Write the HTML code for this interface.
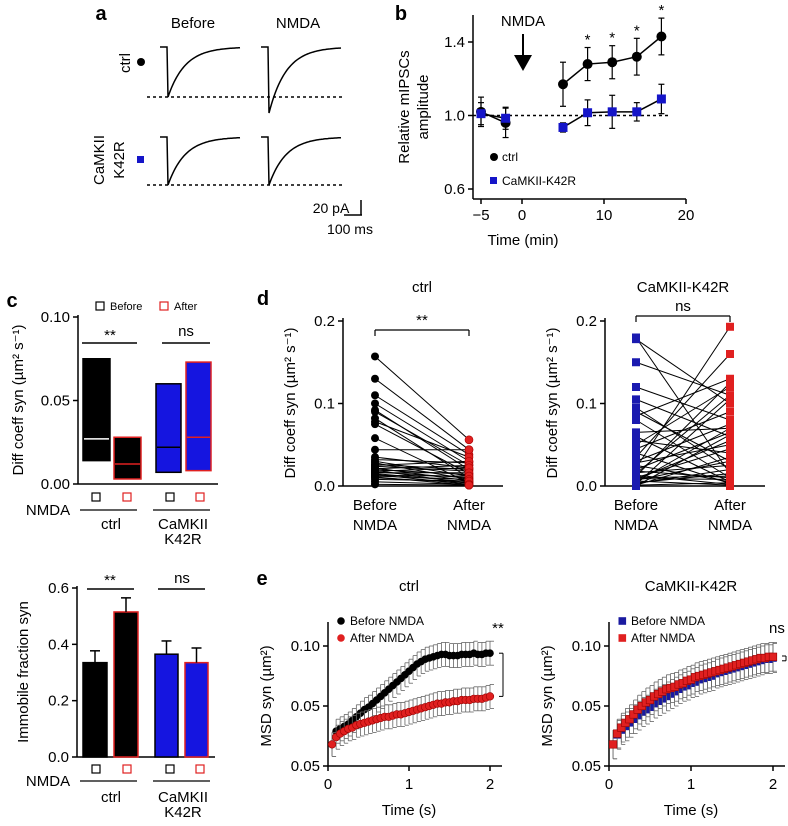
<!DOCTYPE html>
<html><head><meta charset="utf-8"><style>
html,body{margin:0;padding:0;background:#fff;}
svg{display:block;font-family:"Liberation Sans",Arial,sans-serif;}
</style></head><body>
<svg id="fig" width="788" height="826" viewBox="0 0 788 826" xmlns="http://www.w3.org/2000/svg">
<g id="pa"></g>
<g id="pb"></g>
<g id="pc1"></g>
<g id="pc2"></g>
<g id="pd1"></g>
<g id="pd2"></g>
<g id="pe1"></g>
<g id="pe2"></g>
</svg>
<script>
// ---- Panel b data ----
const bTimes = [-5, -2, 5, 8, 11, 14, 17];
const bCtrl = [1.02, 0.96, 1.17, 1.28, 1.29, 1.32, 1.43];
const bCtrlErr = [0.08, 0.08, 0.12, 0.09, 0.09, 0.10, 0.10];
const bK42R = [1.01, 0.985, 0.935, 1.015, 1.02, 1.02, 1.09];
const bK42RErr = [0.06, 0.06, 0.025, 0.07, 0.09, 0.05, 0.08];
const bXTicks = [-5, 0, 10, 20];
const bXTickLabels = ["\u22125", "0", "10", "20"];
const bYTicks = [0.6, 1.0, 1.4];
const bYTickLabels = ["0.6", "1.0", "1.4"];
const bStars = [8, 11, 14, 17];
// ---- Panel c data ----
const cGroups = ["ctrl-before", "ctrl-after", "k42r-before", "k42r-after"];
const cBoxLow = [0.014, 0.003, 0.007, 0.008];
const cBoxHigh = [0.075, 0.028, 0.060, 0.073];
const cBoxMed = [0.027, 0.012, 0.022, 0.028];
const cImmobile = [0.335, 0.515, 0.365, 0.335];
const cImmobileErr = [0.042, 0.05, 0.047, 0.052];
const cYTicks1 = [0, 0.05, 0.10];
const cYTickLabels1 = ["0.00", "0.05", "0.10"];
const cYTicks2 = [0, 0.2, 0.4, 0.6];
const cYTickLabels2 = ["0.0", "0.2", "0.4", "0.6"];
// ---- Panel d data ----
const dCtrlBefore = [.157,.130,.110,.100,.092,.090,.082,.078,.075,.058,.044,.035,.032,.030,.028,.026,.025,.024,.022,.021,.020,.019,.018,.017,.016,.015,.014,.013,.012,.011,.010,.008,.005,.002];
const dCtrlAfter = [.056,.044,.038,.030,.020,.025,.010,.035,.015,.004,.044,.022,.028,.012,.008,.020,.030,.018,.006,.025,.014,.003,.022,.010,.016,.005,.002,.012,.008,.001,.004,.006,.002,.001];
const dK42RBefore = [.180,.178,.150,.120,.105,.095,.090,.085,.080,.065,.060,.055,.050,.045,.040,.035,.030,.028,.025,.022,.020,.018,.016,.015,.013,.012,.010,.009,.008,.007,.006,.005,.004,.003,.002,.001,.001,.000,.000,.010];
const dK42RAfter = [.015,.100,.110,.080,.060,.020,.030,.130,.010,.070,.005,.040,.120,.090,.003,.160,.075,.050,.005,.193,.065,.010,.025,.110,.002,.125,.045,.008,.055,.030,.001,.070,.015,.020,.105,.004,.035,.062,.000,.012];
const dYTicks = [0, 0.1, 0.2];
const dYTickLabels = ["0.0", "0.1", "0.2"];
// ---- Panel e data ----
const eTimes = [0.05,0.1,0.15,0.2,0.25,0.3,0.35,0.4,0.45,0.5,0.55,0.6,0.65,0.7,0.75,0.8,0.85,0.9,0.95,1.0,1.05,1.1,1.15,1.2,1.25,1.3,1.35,1.4,1.45,1.5,1.55,1.6,1.65,1.7,1.75,1.8,1.85,1.9,1.95,2.0];
const eCtrlBefore = [0.018,0.029,0.031,0.033,0.035,0.038,0.041,0.044,0.047,0.049,0.052,0.055,0.058,0.061,0.064,0.067,0.070,0.073,0.076,0.079,0.082,0.085,0.087,0.089,0.090,0.091,0.092,0.093,0.093,0.092,0.092,0.092,0.093,0.093,0.093,0.094,0.093,0.093,0.094,0.094];
const eCtrlAfter = [0.018,0.024,0.027,0.029,0.031,0.032,0.034,0.035,0.036,0.037,0.038,0.039,0.040,0.041,0.041,0.042,0.043,0.043,0.044,0.045,0.046,0.047,0.048,0.049,0.050,0.051,0.052,0.052,0.053,0.053,0.054,0.054,0.055,0.055,0.055,0.056,0.056,0.056,0.057,0.058];
const eK42RBefore = [0.018,0.026,0.030,0.033,0.036,0.039,0.042,0.045,0.047,0.049,0.052,0.054,0.056,0.058,0.060,0.062,0.064,0.066,0.067,0.069,0.070,0.072,0.073,0.074,0.075,0.077,0.078,0.079,0.080,0.081,0.082,0.083,0.084,0.085,0.086,0.087,0.088,0.089,0.089,0.090];
const eK42RAfter = [0.018,0.027,0.032,0.036,0.039,0.043,0.047,0.050,0.053,0.055,0.058,0.060,0.062,0.064,0.065,0.066,0.068,0.069,0.071,0.072,0.074,0.075,0.076,0.077,0.078,0.079,0.080,0.081,0.082,0.083,0.084,0.085,0.086,0.087,0.088,0.089,0.090,0.090,0.091,0.091];
const eCtrlErr = 0.010;
const eK42RErr = 0.012;
const eXTicks = [0, 1, 2];
const eXTickLabels = ["0", "1", "2"];
const eYTicks = [0, 0.05, 0.10];
const eYTickLabels = ["0.05", "0.05", "0.10"];

const NS = "http://www.w3.org/2000/svg";
function mk(parent, tag, attrs, text) {
  const el = document.createElementNS(NS, tag);
  for (const k in attrs) el.setAttribute(k, attrs[k]);
  if (text !== undefined) el.textContent = text;
  parent.appendChild(el);
  return el;
}
function line(p, x1, y1, x2, y2, name, extra) {
  const a = Object.assign({x1, y1, x2, y2, stroke: "#000", "stroke-width": 1.5}, extra || {});
  const el = mk(p, "line", a);
  
  
  return el;
}
function txt(p, x, y, s, name, size, anchor, extra) {
  const a = Object.assign({x, y, "font-size": size || 15, "text-anchor": anchor || "middle", fill: "#000"}, extra || {});
  const el = mk(p, "text", a, s);
  
  
  return el;
}
function scale(d0, d1, r0, r1) { return v => r0 + (v - d0) * (r1 - r0) / (d1 - d0); }

// ===== Panel a =====
(function () {
  const g = document.getElementById("pa");
  txt(g, 101, 20, "a", "panel-label-a", 20, "middle", {"font-weight": "bold"});
  txt(g, 193, 28, "Before", "column-title-before", 15);
  txt(g, 298, 28, "NMDA", "column-title-nmda", 15);
  txt(g, 0, 0, "ctrl", "row-label-ctrl", 15, "middle", {transform: "translate(130,63) rotate(-90)"});
  const dot = mk(g, "circle", {cx: 141, cy: 62, r: 4, fill: "#000"});
  
  
  txt(g, 0, 0, "CaMKII", "row-label-camkii", 15, "middle", {transform: "translate(104,160) rotate(-90)"});
  txt(g, 0, 0, "K42R", "row-label-k42r", 15, "middle", {transform: "translate(124,160) rotate(-90)"});
  const sq = mk(g, "rect", {x: 137, y: 156, width: 7, height: 7, fill: "#1515c8"});
  
  
  function trace(x0, yb, ypk, name) {
    let d = `M${x0},${yb} L${x0 + 7},${yb} L${x0 + 8},${ypk}`;
    const depth = ypk - yb;
    for (let i = 1; i <= 60; i++) {
      const t = i / 60;
      d += ` L${(x0 + 8 + t * 72).toFixed(1)},${(yb + depth * Math.exp(-t * 4.2)).toFixed(1)}`;
    }
    const p = mk(g, "path", {d, fill: "none", stroke: "#000", "stroke-width": 1.5});
    
    
  }
  trace(160, 47, 97, "trace-ctrl-before");
  trace(261, 47, 113, "trace-ctrl-nmda");
  trace(160, 137, 185, "trace-k42r-before");
  trace(261, 137, 185, "trace-k42r-nmda");
  line(g, 147, 97, 343, 97, "baseline-ctrl", {"stroke-dasharray": "3,3"});
  line(g, 147, 185, 343, 185, "baseline-k42r", {"stroke-dasharray": "3,3"});
  line(g, 361, 200, 361, 215, "scale-bar-vertical");
  line(g, 344, 215, 362, 215, "scale-bar-horizontal");
  txt(g, 331, 213, "20 pA", "scale-label-pa", 14);
  txt(g, 350, 234, "100 ms", "scale-label-ms", 14);
})();

// ===== Panel b =====
(function () {
  const g = document.getElementById("pb");
  const X = scale(-5, 20, 481, 686), Y = scale(0.6, 1.4, 189, 42);
  txt(g, 401, 20, "b", "panel-label-b", 20, "middle", {"font-weight": "bold"});
  line(g, 473, 15, 473, 199, "y-axis");
  line(g, 473, 199, 686, 199, "x-axis");
  bXTicks.forEach((t, i) => { line(g, X(t), 199, X(t), 204, "x-tick"); txt(g, X(t), 220, bXTickLabels[i], "x-tick-label", 15); });
  bYTicks.forEach((t, i) => { line(g, 468, Y(t), 473, Y(t), "y-tick"); txt(g, 465, Y(t) + 5, bYTickLabels[i], "y-tick-label", 15, "end"); });
  txt(g, 523, 245, "Time (min)", "x-axis-title", 15);
  txt(g, 0, 0, "Relative mIPSCs", "y-axis-title", 15, "middle", {transform: "translate(409,107) rotate(-90)"});
  txt(g, 0, 0, "amplitude", "y-axis-title-2", 15, "middle", {transform: "translate(428,107) rotate(-90)"});
  line(g, 473, Y(1.0), 668, Y(1.0), "reference-line", {"stroke-dasharray": "3,3"});
  txt(g, 523, 26, "NMDA", "nmda-label", 15);
  line(g, 523, 34, 523, 55, "nmda-arrow-shaft", {"stroke-width": 2});
  const ar = mk(g, "polygon", {points: "514,55 532,55 523,71", fill: "#000"});
  
  
  function series(vals, errs, color, shape, name) {
    let d = "";
    const seg = [[0, 2], [2, 7]];
    seg.forEach(([a, b]) => {
      for (let i = a; i < b; i++) d += (i === a ? "M" : "L") + X(bTimes[i]) + "," + Y(vals[i]) + " ";
    });
    const p = mk(g, "path", {d, fill: "none", stroke: "#000", "stroke-width": 1.5});
    
    
    vals.forEach((v, i) => {
      const x = X(bTimes[i]);
      line(g, x, Y(v - errs[i]), x, Y(v + errs[i]), name + "-error-bar", {"stroke-width": 1.2});
      line(g, x - 3, Y(v + errs[i]), x + 3, Y(v + errs[i]), name + "-error-cap", {"stroke-width": 1.2});
      line(g, x - 3, Y(v - errs[i]), x + 3, Y(v - errs[i]), name + "-error-cap", {"stroke-width": 1.2});
      let m;
      if (shape === "c") m = mk(g, "circle", {cx: x, cy: Y(v), r: 5, fill: color});
      else m = mk(g, "rect", {x: x - 4.5, y: Y(v) - 4.5, width: 9, height: 9, fill: color});
      
      
    });
  }
  series(bCtrl, bCtrlErr, "#000", "c", "ctrl");
  series(bK42R, bK42RErr, "#1515c8", "s", "k42r");
  bStars.forEach(t => {
    const i = bTimes.indexOf(t);
    txt(g, X(t), Y(bCtrl[i] + bCtrlErr[i]) - 3, "*", "significance-star", 15);
  });
  const l1 = mk(g, "circle", {cx: 494, cy: 157, r: 4, fill: "#000"});
  
  
  txt(g, 502, 161, "ctrl", "legend-label-ctrl", 12, "start");
  const l2 = mk(g, "rect", {x: 490, y: 177, width: 7, height: 7, fill: "#1515c8"});
  
  
  txt(g, 502, 185, "CaMKII-K42R", "legend-label-k42r", 12, "start");
})();

// ===== Panel c =====
function nmdaRow(g, yS, yL, yG) {
  const xs = [96, 127, 170, 200];
  xs.forEach((x, i) => {
    const r = mk(g, "rect", {x: x - 4, y: yS - 4, width: 8, height: 8, fill: "none", stroke: i % 2 ? "#e02020" : "#000", "stroke-width": 1.2});
    
    
  });
  txt(g, 48, yL + 5, "NMDA", "nmda-row-label", 15);
  line(g, 80, yL, 137, yL, "group-line-ctrl", {"stroke-width": 1.2});
  line(g, 153, yL, 210, yL, "group-line-k42r", {"stroke-width": 1.2});
  txt(g, 111, yG, "ctrl", "group-label-ctrl", 15);
  txt(g, 183, yG, "CaMKII", "group-label-camkii", 15);
  txt(g, 183, yG + 15, "K42R", "group-label-k42r", 15);
}
const cBarX = [83, 114, 156, 186];
const cBarW = [27, 27, 25, 25];
const cFill = ["#000", "#000", "#1515e0", "#1515e0"];
const cStroke = ["#000", "#e02020", "#000", "#e02020"];
const cMedColor = ["#fff", "#e02020", "#000", "#e02020"];
(function () {
  const g = document.getElementById("pc1");
  const Y = scale(0, 0.10, 484, 317);
  txt(g, 12, 307, "c", "panel-label-c", 20, "middle", {"font-weight": "bold"});
  line(g, 78, 315, 78, 484, "y-axis");
  line(g, 78, 484, 218, 484, "x-axis");
  cYTicks1.forEach((t, i) => { line(g, 73, Y(t), 78, Y(t), "y-tick"); txt(g, 70, Y(t) + 5, cYTickLabels1[i], "y-tick-label", 15, "end"); });
  txt(g, 0, 0, "Diff coeff syn (\u00b5m\u00b2 s\u207b\u00b9)", "y-axis-title", 15, "middle", {transform: "translate(23,400) rotate(-90)"});
  cGroups.forEach((n, i) => {
    const r = mk(g, "rect", {x: cBarX[i], y: Y(cBoxHigh[i]), width: cBarW[i], height: Y(cBoxLow[i]) - Y(cBoxHigh[i]), fill: cFill[i], stroke: cStroke[i], "stroke-width": 1.5});
    
    
    line(g, cBarX[i] + 1, Y(cBoxMed[i]), cBarX[i] + cBarW[i] - 1, Y(cBoxMed[i]), "median-" + n, {stroke: cMedColor[i], "stroke-width": 1.5});
  });
  const lb = mk(g, "rect", {x: 96, y: 302, width: 8, height: 8, fill: "none", stroke: "#000", "stroke-width": 1.2});
  
  
  txt(g, 110, 310, "Before", "legend-label-before", 11, "start");
  const la = mk(g, "rect", {x: 160, y: 302, width: 8, height: 8, fill: "none", stroke: "#e02020", "stroke-width": 1.2});
  
  
  txt(g, 174, 310, "After", "legend-label-after", 11, "start");
  line(g, 82, 343, 137, 343, "significance-line-ctrl");
  txt(g, 110, 340, "**", "significance-ctrl", 15);
  line(g, 162, 343, 210, 343, "significance-line-k42r");
  txt(g, 186, 336, "ns", "significance-k42r", 15);
  nmdaRow(g, 497, 510, 529);
})();
(function () {
  const g = document.getElementById("pc2");
  const Y = scale(0, 0.6, 757, 588);
  line(g, 77, 586, 77, 757, "y-axis");
  line(g, 77, 757, 215, 757, "x-axis");
  cYTicks2.forEach((t, i) => { line(g, 72, Y(t), 77, Y(t), "y-tick"); txt(g, 69, Y(t) + 5, cYTickLabels2[i], "y-tick-label", 15, "end"); });
  txt(g, 0, 0, "Immobile fraction syn", "y-axis-title", 15, "middle", {transform: "translate(28,672) rotate(-90)"});
  const bx = [83, 114, 155, 185];
  cGroups.forEach((n, i) => {
    const x = bx[i], w = cBarW[i] - 3 + (i < 2 ? 0 : 1);
    const r = mk(g, "rect", {x, y: Y(cImmobile[i]), width: w, height: Y(0) - Y(cImmobile[i]), fill: cFill[i], stroke: cStroke[i], "stroke-width": 1.5});
    
    
    const cx = x + w / 2, top = Y(cImmobile[i] + cImmobileErr[i]);
    line(g, cx, Y(cImmobile[i]), cx, top, "error-bar-" + n);
    line(g, cx - 5, top, cx + 5, top, "error-cap-" + n);
  });
  line(g, 87, 589, 134, 589, "significance-line-ctrl");
  txt(g, 110, 585, "**", "significance-ctrl", 15);
  line(g, 158, 589, 205, 589, "significance-line-k42r");
  txt(g, 182, 583, "ns", "significance-k42r", 15);
  nmdaRow(g, 769, 781, 802);
})();

// ===== Panel d =====
function panelD(id, x0, xB, xA, before, after, beforeColor, shape, title, sig, sigY, label) {
  const g = document.getElementById(id);
  const Y = scale(0, 0.2, 486, 321);
  if (label) txt(g, 263, 305, "d", "panel-label-d", 20, "middle", {"font-weight": "bold"});
  txt(g, (xB + xA) / 2, 292, title, "panel-title", 15);
  line(g, x0, 318, x0, 486, "y-axis");
  line(g, x0, 486, x0 + 160, 486, "x-axis");
  dYTicks.forEach((t, i) => { line(g, x0 - 5, Y(t), x0, Y(t), "y-tick"); txt(g, x0 - 8, Y(t) + 5, dYTickLabels[i], "y-tick-label", 15, "end"); });
  txt(g, 0, 0, "Diff coeff syn (\u00b5m\u00b2 s\u207b\u00b9)", "y-axis-title", 15, "middle", {transform: `translate(${x0 - 48},403) rotate(-90)`});
  txt(g, xB, 510, "Before", "x-label-before", 15);
  txt(g, xB, 530, "NMDA", "x-label-before-2", 15);
  txt(g, xA, 510, "After", "x-label-after", 15);
  txt(g, xA, 530, "NMDA", "x-label-after-2", 15);
  before.forEach((b, i) => line(g, xB, Y(b), xA, Y(after[i]), "pair-line", {"stroke-width": 1}));
  function mark(x, v, color, name) {
    let m;
    if (shape === "c") m = mk(g, "circle", {cx: x, cy: Y(v), r: 4, fill: color, stroke: color === "#e02020" ? "#a00" : "none", "stroke-width": 0.6});
    else m = mk(g, "rect", {x: x - 4, y: Y(v) - 4, width: 8, height: 8, fill: color});
    
    
  }
  before.forEach(v => mark(xB, v, beforeColor, "point-before"));
  after.forEach(v => mark(xA, v, "#e02020", "point-after"));
  line(g, xB, sigY, xA, sigY, "significance-bracket", {"stroke-width": 1.2});
  line(g, xB, sigY, xB, sigY + 6, "bracket-end", {"stroke-width": 1.2});
  line(g, xA, sigY, xA, sigY + 6, "bracket-end", {"stroke-width": 1.2});
  txt(g, (xB + xA) / 2, sigY - 5, sig, "significance-label", 15);
}
panelD("pd1", 343, 375, 469, dCtrlBefore, dCtrlAfter, "#000", "c", "ctrl", "**", 330, true);
panelD("pd2", 605, 636, 730, dK42RBefore, dK42RAfter, "#1a1ab0", "s", "CaMKII-K42R", "ns", 316, false);

// ===== Panel e =====
function panelE(id, x0, xEnd, before, after, err, beforeColor, shape, title, sig, sigX, sigAnchor, label) {
  const g = document.getElementById(id);
  const X = scale(0, 2, x0, xEnd), Y = scale(0, 0.10, 766, 646);
  if (label) txt(g, 262, 585, "e", "panel-label-e", 20, "middle", {"font-weight": "bold"});
  txt(g, (x0 + xEnd) / 2, 591, title, "panel-title", 15);
  line(g, x0, 622, x0, 766, "y-axis");
  line(g, x0, 766, xEnd + 12, 766, "x-axis");
  eXTicks.forEach((t, i) => { line(g, X(t), 766, X(t), 771, "x-tick"); txt(g, X(t), 789, eXTickLabels[i], "x-tick-label", 15); });
  eYTicks.forEach((t, i) => { line(g, x0 - 5, Y(t), x0, Y(t), "y-tick"); txt(g, x0 - 8, Y(t) + 5, eYTickLabels[i], "y-tick-label", 15, "end"); });
  txt(g, X(1), 815, "Time (s)", "x-axis-title", 15);
  txt(g, 0, 0, "MSD syn (\u00b5m\u00b2)", "y-axis-title", 15, "middle", {transform: `translate(${x0 - 57},696) rotate(-90)`});
  function draw(vals, color, name) {
    vals.forEach((v, i) => {
      const x = X(eTimes[i]);
      line(g, x, Y(v), x, Y(v + err), name + "-error", {stroke: "#666", "stroke-width": 0.8});
      line(g, x, Y(v + err), x + 4, Y(v + err), name + "-error-cap", {stroke: "#666", "stroke-width": 0.8});
      line(g, x, Y(v), x, Y(v - err), name + "-error", {stroke: "#666", "stroke-width": 0.8});
      line(g, x, Y(v - err), x + 4, Y(v - err), name + "-error-cap", {stroke: "#666", "stroke-width": 0.8});
    });
    vals.forEach((v, i) => {
      const x = X(eTimes[i]);
      let m;
      if (shape === "c") m = mk(g, "circle", {cx: x, cy: Y(v), r: 3.8, fill: color, stroke: color === "#e02020" ? "#900" : "none", "stroke-width": 0.6});
      else m = mk(g, "rect", {x: x - 3.8, y: Y(v) - 3.8, width: 7.6, height: 7.6, fill: color, stroke: color === "#e02020" ? "#900" : "none", "stroke-width": 0.6});
      
      
    });
  }
  draw(before, beforeColor, "before-nmda");
  draw(after, "#e02020", "after-nmda");
  function leg(y, color, lab, name) {
    let m;
    if (shape === "c") m = mk(g, "circle", {cx: x0 + 13, cy: y, r: 3.8, fill: color});
    else m = mk(g, "rect", {x: x0 + 9.5, y: y - 3.8, width: 7.6, height: 7.6, fill: color});
    
    
    txt(g, x0 + 22, y + 4, lab, name + "-label", 12, "start");
  }
  leg(621, beforeColor, "Before NMDA", "legend-before");
  leg(638, "#e02020", "After NMDA", "legend-after");
  const lb = before[before.length - 1], la = after[after.length - 1];
  const bx = xEnd + 13;
  const small = Math.abs(lb - la) < 0.005;
  const yTop = small ? Y(lb) - 2 : Y(lb), yBot = small ? Y(la) + 4 : Y(la);
  line(g, bx - 4, yTop, bx, yTop, "bracket-top", {"stroke-width": 1});
  line(g, bx, yTop, bx, yBot, "bracket", {"stroke-width": 1});
  line(g, bx - 4, yBot, bx, yBot, "bracket-bottom", {"stroke-width": 1});
  txt(g, sigX, 633, sig, "significance-label", 15, sigAnchor);
}
panelE("pe1", 328, 490, eCtrlBefore, eCtrlAfter, eCtrlErr, "#000", "c", "ctrl", "**", 498, "middle", true);
panelE("pe2", 609, 773, eK42RBefore, eK42RAfter, eK42RErr, "#1a1aa0", "s", "CaMKII-K42R", "ns", 769, "start", false);
</script>
</body></html>
